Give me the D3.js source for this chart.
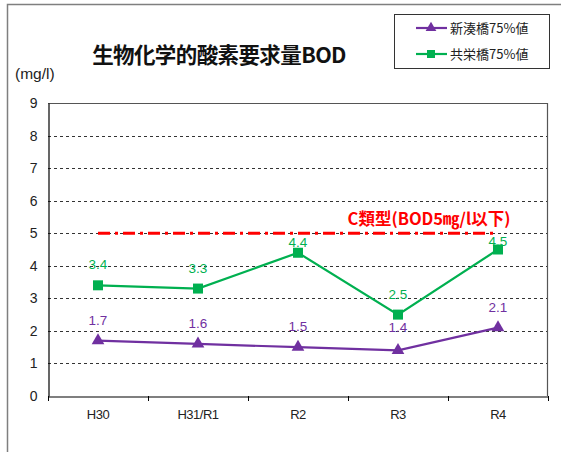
<!DOCTYPE html>
<html><head><meta charset="utf-8">
<script src="https://cdn.jsdelivr.net/npm/d3@7"></script>
<style>body{margin:0;background:#fff}svg{display:block}</style>
</head><body>
<script>
const categories = ["H30", "H31/R1", "R2", "R3", "R4"];
const seriesNames = ["新湊橋75%値", "共栄橋75%値"];
const shinminato = [1.7, 1.6, 1.5, 1.4, 2.1];
const kyoei = [3.4, 3.3, 4.4, 2.5, 4.5];
const standardValue = 5;
const standardLabel = "C類型(BOD5㎎/l以下)";
const yTicks = [0,1,2,3,4,5,6,7,8,9];
const title = "生物化学的酸素要求量BOD";
const unitLabel = "(mg/l)";

const W = 561, H = 452;
const purple = "#7030a0", green = "#00b050", red = "#ff0000";
const labelNudgeGreen = [0, 0, 10, 0, 12];
const labelNudgePurple = [0, 0, 0, -2, 0];

const svg = d3.select("body").append("svg").attr("width", W).attr("height", H);
const font = "'Liberation Sans', Arial, sans-serif";
const cjk = "'Noto Sans CJK JP', sans-serif";

// outer frame
svg.append("path").attr("d", `M7.5,${H} V4.5 H${W}`).attr("fill","none").attr("stroke","#7f7f7f").attr("stroke-width",1.5);

const m = {left: 48, right: 548, top: 103, bottom: 396};
const x = d3.scaleBand().domain(categories).range([m.left, m.right]);
const y = d3.scaleLinear().domain([0, 9]).range([m.bottom, m.top]);
const cx = c => x(c) + x.bandwidth()/2;

// gridlines
svg.append("g").selectAll("line").data(yTicks.filter(t => t > 0 && t < 9)).join("line")
  .attr("x1", m.left).attr("x2", m.right)
  .attr("y1", d => Math.round(y(d)) + 0.5).attr("y2", d => Math.round(y(d)) + 0.5)
  .attr("stroke", "#333").attr("stroke-width", 1).attr("stroke-dasharray", "3,3");

// plot frame top/right
svg.append("path").attr("d", `M${m.left},${Math.round(y(9))+0.5} H${m.right-0.5} V${m.bottom}`)
  .attr("fill","none").attr("stroke","#555").attr("stroke-width",1.2);

// y axis
const yAxis = svg.append("g").attr("transform", `translate(${m.left+0.5},0)`)
  .call(d3.axisLeft(y).tickValues(yTicks).tickSize(0).tickPadding(11).tickFormat(d3.format("d")));
yAxis.select(".domain").attr("stroke","#000").attr("stroke-width",1.2);
yAxis.selectAll("text").attr("font-family", font).attr("font-size", 14).attr("fill","#222");

// x axis
const xAxis = svg.append("g").attr("transform", `translate(0,${m.bottom+0.5})`)
  .call(d3.axisBottom(x).tickSize(0).tickPadding(13));
xAxis.select(".domain").attr("stroke","#000").attr("stroke-width",1.2);
xAxis.selectAll("text").attr("font-family", font).attr("font-size", 13).attr("fill","#222").attr("letter-spacing","-0.5px");
svg.append("g").selectAll("line").data(d3.range(categories.length + 1)).join("line")
  .attr("x1", i => m.left + i * x.bandwidth() + 0.5).attr("x2", i => m.left + i * x.bandwidth() + 0.5)
  .attr("y1", m.bottom).attr("y2", m.bottom + 5).attr("stroke","#000");

// standard line
svg.append("line").attr("x1", cx(categories[0])).attr("x2", cx(categories[categories.length-1]))
  .attr("y1", y(standardValue)).attr("y2", y(standardValue))
  .attr("stroke", red).attr("stroke-width", 3).attr("stroke-dasharray", "12,5,3,5");
svg.append("text").attr("x", 429).attr("y", y(standardValue) - 8).attr("text-anchor","middle")
  .attr("font-family", cjk).attr("font-weight","bold").attr("font-size", 16.5)
  .attr("fill", red).text(standardLabel);

// series
const line = d3.line().x((d,i) => cx(categories[i])).y(d => y(d));
function drawSeries(vals, color, shape, nudge, off) {
  const g = svg.append("g");
  g.append("path").datum(vals).attr("d", line).attr("fill","none").attr("stroke", color).attr("stroke-width", 2.2);
  g.selectAll("path.mk").data(vals).join("path").attr("class","mk")
    .attr("transform", (d,i) => `translate(${cx(categories[i])},${y(d)})`)
    .attr("d", d3.symbol().type(shape).size(shape === d3.symbolSquare ? 100 : 70))
    .attr("fill", color);
  g.selectAll("text").data(vals).join("text")
    .attr("x", (d,i) => cx(categories[i])).attr("y", (d,i) => y(d) - off + nudge[i])
    .attr("text-anchor","middle").attr("font-family", font).attr("font-size", 13.5).attr("fill", color)
    .text(d => d.toFixed(1));
}
drawSeries(kyoei, green, d3.symbolSquare, labelNudgeGreen, 16);
drawSeries(shinminato, purple, d3.symbolTriangle, labelNudgePurple, 16);

// title
svg.append("text").attr("x", 219).attr("y", 63).attr("text-anchor","middle")
  .attr("font-family", cjk).attr("font-weight","bold").attr("font-size", 21.5)
  .attr("fill","#111").attr("letter-spacing","-0.6px").text(title);
svg.append("text").attr("x", 15).attr("y", 79).attr("font-family", font).attr("font-size", 15.5).attr("fill","#222").text(unitLabel);

// legend
const lg = svg.append("g");
lg.append("rect").attr("x", 394.5).attr("y", 14.5).attr("width", 155).attr("height", 54)
  .attr("fill","#fff").attr("stroke","#333").attr("stroke-width",1);
const legendItems = [
  {name: seriesNames[0], color: purple, shape: d3.symbolTriangle, size: 50},
  {name: seriesNames[1], color: green, shape: d3.symbolSquare, size: 64}
];
legendItems.forEach((it, i) => {
  const yy = 28 + i * 26;
  lg.append("line").attr("x1", 416).attr("x2", 447).attr("y1", yy).attr("y2", yy).attr("stroke", it.color).attr("stroke-width", 2.2);
  lg.append("path").attr("transform", `translate(431,${yy})`).attr("d", d3.symbol().type(it.shape).size(it.size)).attr("fill", it.color);
  lg.append("text").attr("x", 450).attr("y", yy + 5).attr("font-family", cjk).attr("font-size", 13).attr("fill","#222").text(it.name);
});
</script>
</body></html>
